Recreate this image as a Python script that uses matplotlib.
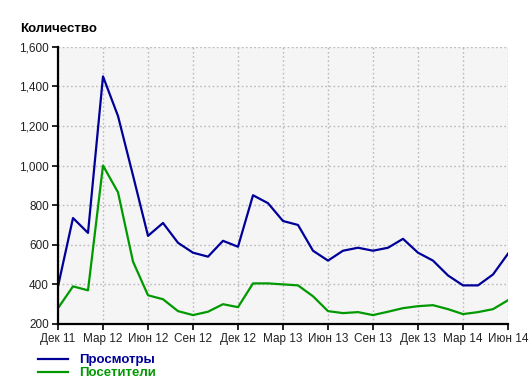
import matplotlib
matplotlib.use('Agg')
import matplotlib.pyplot as plt
from matplotlib.ticker import FuncFormatter, MultipleLocator

#######################################
#      data                           #
#######################################
months = ['Дек 11', 'Янв 12', 'Фев 12', 'Мар 12', 'Апр 12', 'Май 12', 'Июн 12',
          'Июл 12', 'Авг 12', 'Сен 12', 'Окт 12', 'Ноя 12', 'Дек 12',
          'Янв 13', 'Фев 13', 'Мар 13', 'Апр 13', 'Май 13', 'Июн 13',
          'Июл 13', 'Авг 13', 'Сен 13', 'Окт 13', 'Ноя 13', 'Дек 13',
          'Янв 14', 'Фев 14', 'Мар 14', 'Апр 14', 'Май 14', 'Июн 14']

views = [390, 735, 660, 1450, 1250, 950, 645, 710, 610, 560, 540, 620, 590,
         850, 810, 720, 700, 570, 520, 570, 585, 570, 585, 630, 560,
         520, 445, 395, 395, 450, 555]

visitors = [280, 390, 370, 1000, 865, 515, 345, 325, 265, 245, 262, 300, 285,
            405, 405, 400, 395, 340, 265, 255, 260, 245, 262, 280, 290,
            295, 275, 250, 260, 275, 320]

series_names = ['Просмотры', 'Посетители']
y_label = 'Количество'

blue = '#000099'
green = '#009900'

#######################################
#      figure                         #
#######################################
plt.rcParams['font.family'] = ['Liberation Sans', 'DejaVu Sans']
fig = plt.figure(figsize=(5.3, 3.85), dpi=100)
ax = fig.add_axes([58 / 530, 1 - 324 / 385, 450 / 530, 277.3 / 385])
ax.set_facecolor('#f5f5f5')

x = list(range(len(months)))
ax.plot(x, views, color=blue, lw=1.6, label=series_names[0])
ax.plot(x, visitors, color=green, lw=1.6, label=series_names[1])

ax.set_xlim(0, len(months) - 1)
ax.set_ylim(200, 1600)
ax.yaxis.set_major_locator(MultipleLocator(200))
ax.yaxis.set_major_formatter(FuncFormatter(lambda v, p: '{:,.0f}'.format(v)))
ax.set_xticks(x[::3])
ax.set_xticklabels(months[::3])

ax.grid(True, color='#bbbbbb', linestyle=(0, (1.2, 1.8)), lw=1.0)
ax.set_axisbelow(True)

for s in ['top', 'right']:
    ax.spines[s].set_visible(False)
for s in ['left', 'bottom']:
    ax.spines[s].set_linewidth(1.6)
    ax.spines[s].set_color('black')

ax.tick_params(axis='both', direction='out', length=4, width=1.2,
               labelsize=8.5, colors='black', pad=2.5)
for lbl in ax.get_xticklabels() + ax.get_yticklabels():
    lbl.set_color('#222222')

fig.text(20 / 530, 1 - 29 / 385, y_label, fontsize=9.5, fontweight='bold',
         va='center', ha='left')

leg = fig.legend(loc='upper left', bbox_to_anchor=(38 / 530, 1 - 354 / 385),
                 frameon=False, handlelength=2.3, handletextpad=0.85,
                 labelspacing=0.05, borderpad=0, borderaxespad=0,
                 labelcolor='linecolor',
                 prop={'weight': 'bold', 'size': 9.5})

fig.savefig('out.png', dpi=100)
